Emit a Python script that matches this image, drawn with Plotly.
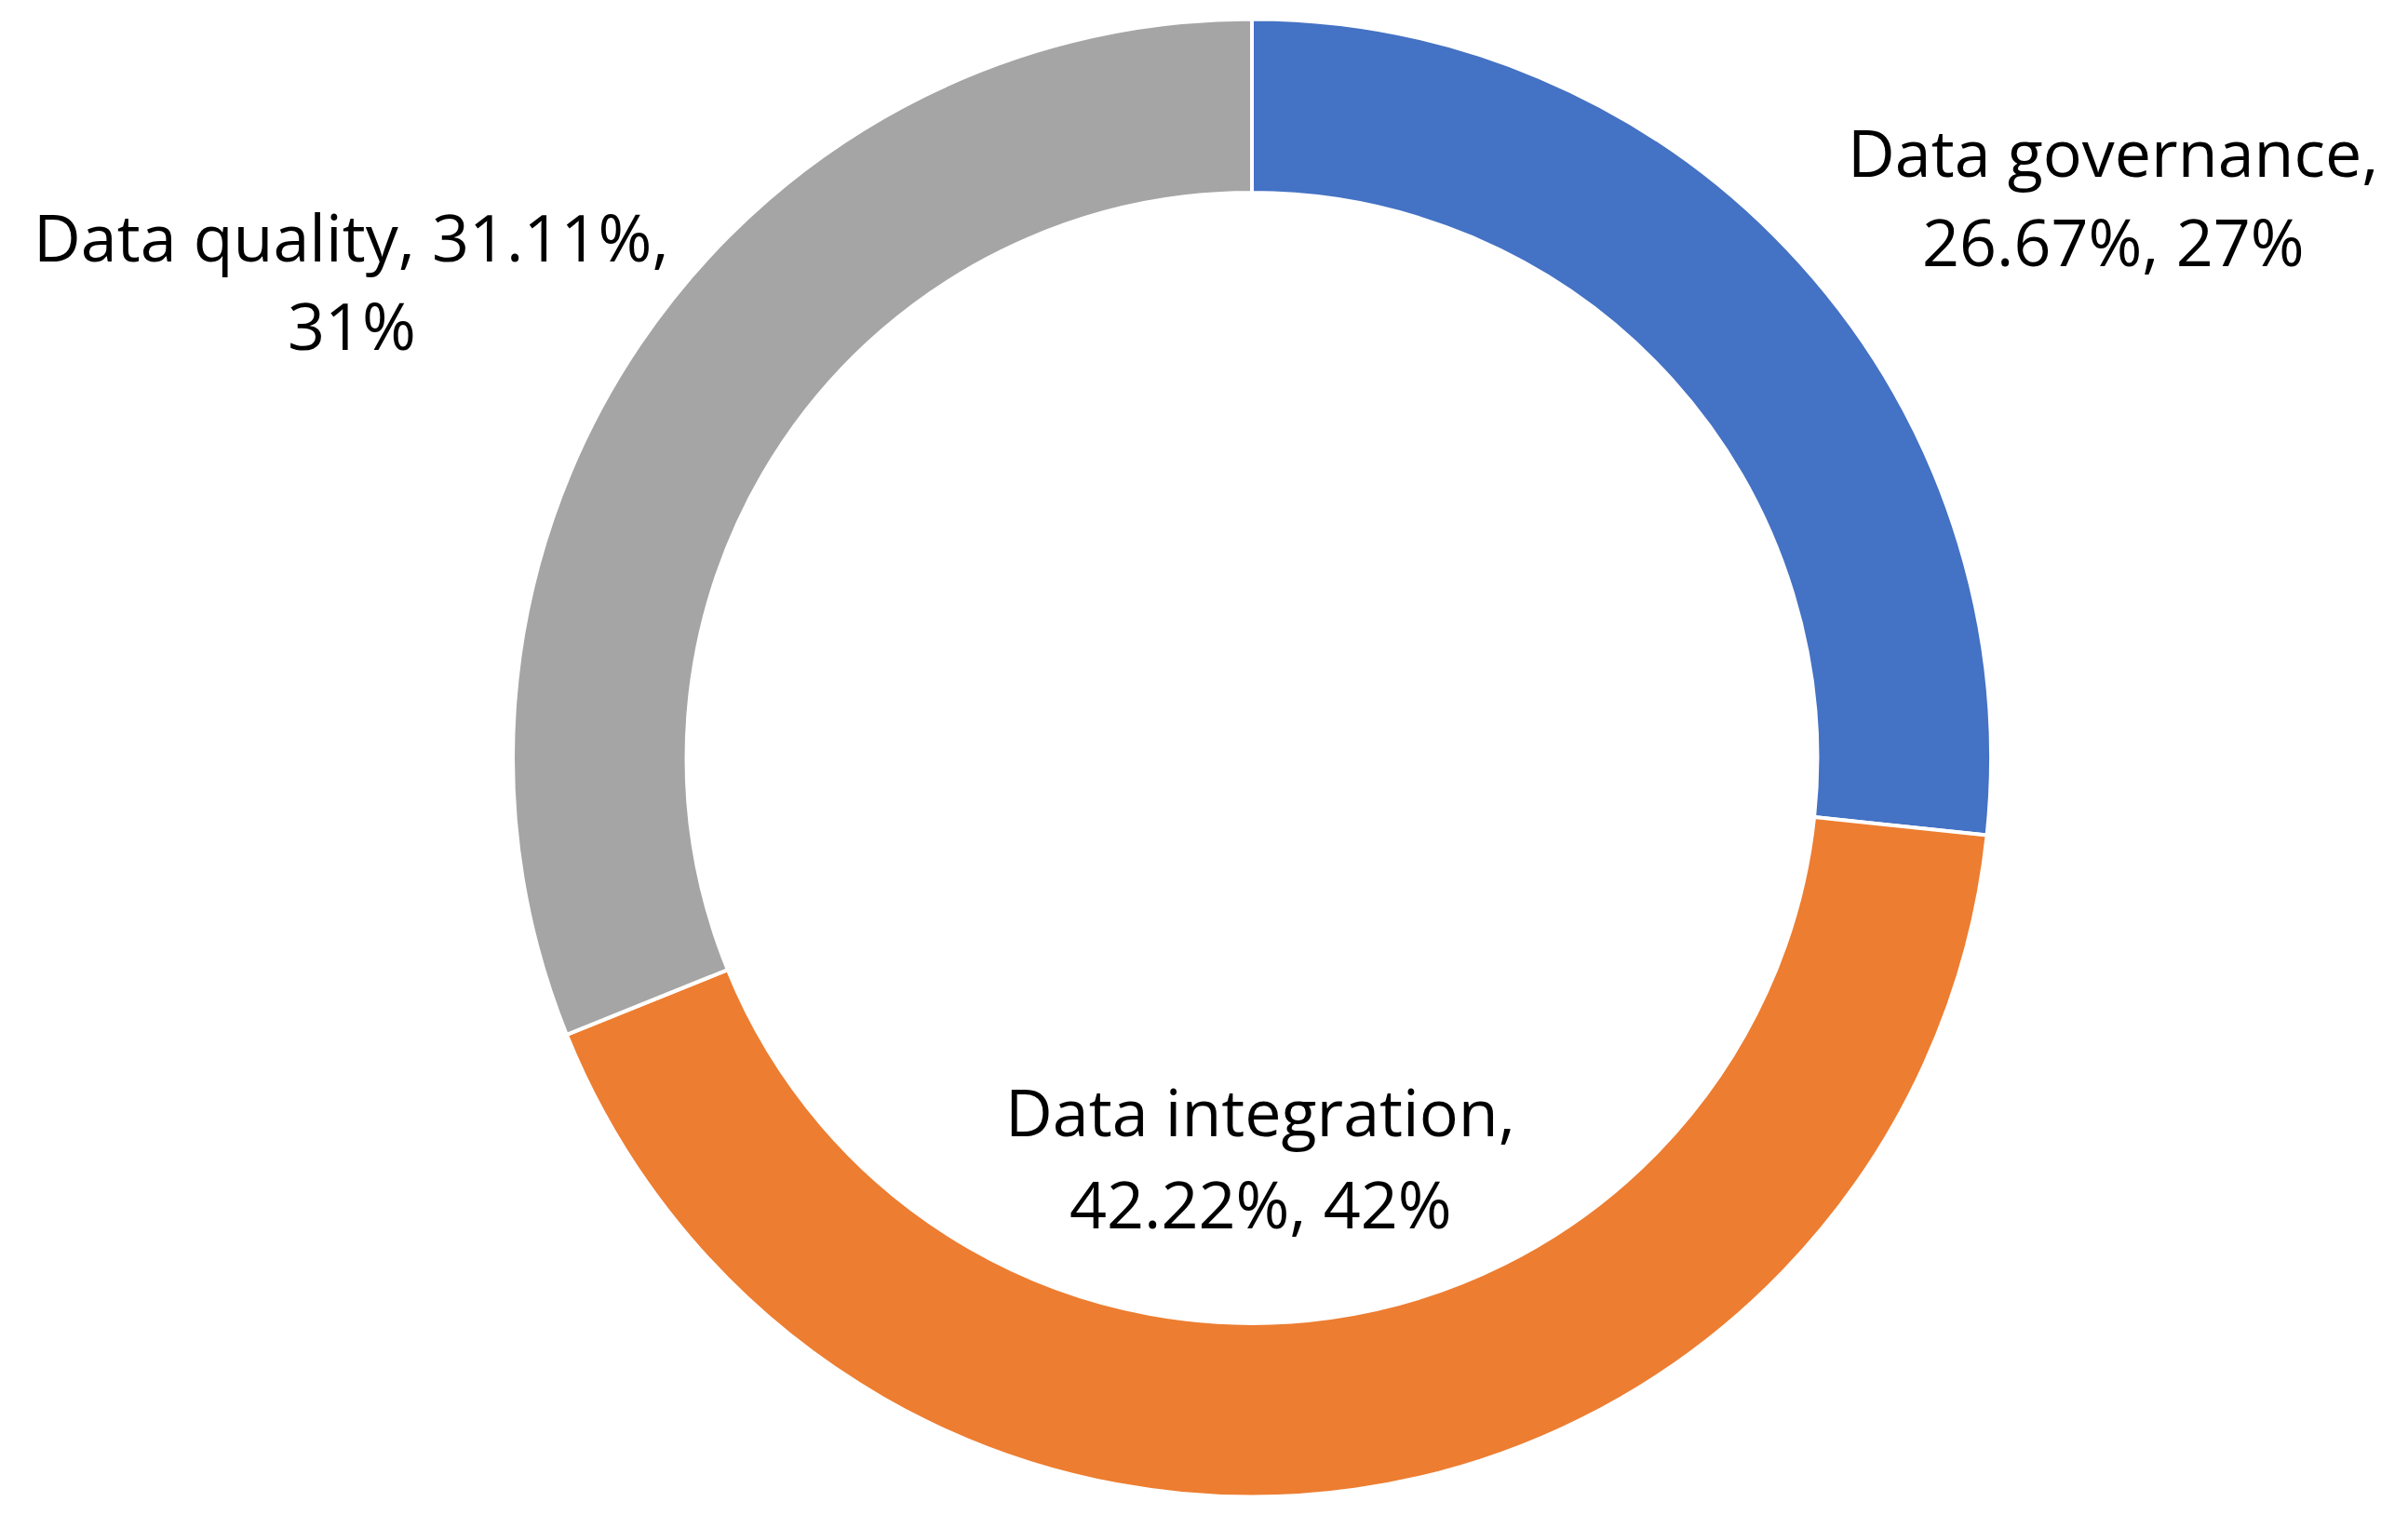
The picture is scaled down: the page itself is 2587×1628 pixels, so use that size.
import plotly.graph_objects as go

categories = ["Data governance", "Data integration", "Data quality"]
counts = [12, 19, 14]
colors = ["#4472C4", "#ED7D31", "#A5A5A5"]

W, H = 2587, 1628
total = sum(counts)
pcts = [100 * c / total for c in counts]

fig = go.Figure(go.Pie(
    labels=categories, values=counts, hole=0.765, sort=False,
    direction="clockwise", rotation=0,
    marker=dict(colors=colors, line=dict(color="white", width=4)),
    textinfo="none", hoverinfo="label+percent", showlegend=False,
    domain=dict(x=[543 / W, 2131 / W], y=[1 - 1601 / H, 1 - 12 / H]),
))

# label texts (Excel style: "name, percent, rounded percent") with manual line breaks
label_lines = [
    (f"{categories[0]},", f"{pcts[0]:.2f}%, {pcts[0]:.0f}%"),
    (f"{categories[1]},", f"{pcts[1]:.2f}%, {pcts[1]:.0f}%"),
    (f"{categories[2]}, {pcts[2]:.2f}%,", f"{pcts[2]:.0f}%"),
]
label_pos = [(2262, 155, 251), (1346, 1186, 1285), (370, 246, 341)]

for (l1, l2), (x, y1, y2) in zip(label_lines, label_pos):
    for txt, y in ((l1, y1), (l2, y2)):
        fig.add_annotation(
            x=x / W, y=1 - y / H, xref="paper", yref="paper",
            text=txt, showarrow=False, xanchor="center", yanchor="middle",
            font=dict(family="Open Sans", size=70, color="#000000"),
        )

fig.update_layout(
    width=W, height=H, margin=dict(l=0, r=0, t=0, b=0),
    paper_bgcolor="white", plot_bgcolor="white",
)
fig.write_html("out.html")
